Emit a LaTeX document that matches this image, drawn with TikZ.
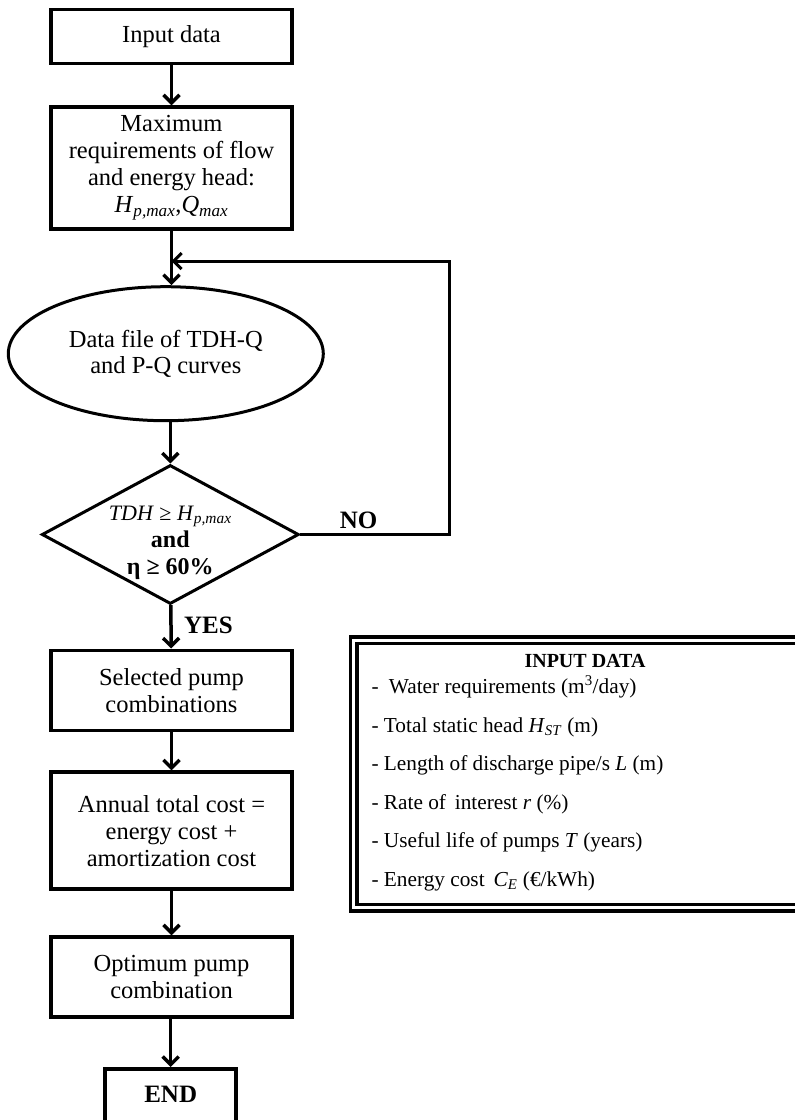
\documentclass[tikz,border=0pt]{standalone}
\usepackage{fontspec}
\setmainfont{Liberation Serif}
\usetikzlibrary{shapes.geometric, arrows.meta}

\begin{document}
\begin{tikzpicture}[x=1pt, y=-1pt,
box/.style={draw, line width=3.5pt, minimum width=241pt, inner sep=2pt, align=center, font=\fontsize{24.5}{27}\selectfont},
flow/.style={line width=3.5pt, -{Straight Barb[length=8pt,width=16pt]}},
frame2/.style={draw, line width=3.5pt, double=white, double distance=3pt},
item/.style={anchor=base west, font=\fontsize{21.3}{24}\selectfont},
tag/.style={font=\bfseries\fontsize{25}{28}\selectfont}]
\useasboundingbox (0,0) rectangle (795,1120);

% main chain
\node [box, minimum height=54pt] (inp) at (171.5,36.6) {Input data};
\node [box, minimum height=122pt] (maxreq) at (171.5,168) {Maximum\\ requirements of flow\\ and energy head:\\ \textit{H}\textsubscript{\textit{p,max}},\textit{Q}\textsubscript{\textit{max}}};
\node [draw, ellipse, line width=3pt, minimum width=315pt, minimum height=134pt, inner sep=0pt, align=center, font=\fontsize{24.5}{26}\selectfont] (ell) at (165.8,353.7) {Data file of TDH-Q\\ and P-Q curves};
\node [draw, diamond, line width=3pt, minimum width=257pt, minimum height=139pt, inner sep=0pt] (dia) at (170.3,534.5) {};
\node [align=center, font=\fontsize{24}{27}\selectfont] (diatxt) at (170.3,543) {{\fontsize{22}{27}\selectfont\textit{TDH} ≥ \textit{H}\textsubscript{\textit{p,max}}}\\ \textbf{and}\\ \textbf{η ≥ 60\%}};
\node [box, minimum height=80pt] (sel) at (171.5,690.3) {Selected pump\\ combinations};
\node [box, minimum height=117pt] (cost) at (171.5,830.7) {Annual total cost =\\ energy cost +\\ amortization cost};
\node [box, minimum height=80pt] (opt) at (171.5,977) {Optimum pump\\ combination};
\node [box, minimum width=131pt, minimum height=64pt, text depth=12pt, font=\bfseries\fontsize{25}{28}\selectfont, anchor=north] (fin) at (170.7,1067) {END};

\node [tag] (yes) at (208.5,625) {YES};
\node [tag] (no) at (358.5,520) {NO};

% arrows
\draw [flow] (inp) -- (maxreq);
\draw [flow] (maxreq.south) -- (maxreq.south |- ell.north);
\draw [flow] (ell.south -| dia.north) -- (dia.north);
\draw [flow] (dia) -- (sel);
\draw [flow] (sel) -- (cost);
\draw [flow] (cost) -- (opt);
\draw [flow] (opt.south) -- (opt.south -| fin.north) -- (fin.north);

% loop back
\coordinate (loopR) at (449,534.5);
\coordinate (join) at (171.5,261);
\draw [line width=3pt, -{Straight Barb[length=8pt,width=16pt]}] (dia.east) -- (loopR) |- (join);

% input data panel
\node [frame2, minimum width=470pt, minimum height=267.5pt, inner sep=0pt, anchor=north west] (panel) at (352,638.5) {};
\node [font=\bfseries\fontsize{20}{24}\selectfont] (ttl) at (585,661) {INPUT DATA};
\foreach \txt [count=\i from 0] in {{-\hspace{5pt} Water requirements (m\textsuperscript{3}/day)},
  {- Total static head \textit{H}\textsubscript{\textit{ST}} (m)},
  {- Length of discharge pipe/s \textit{L} (m)},
  {- Rate of\, interest \textit{r} (\%)},
  {- Useful life of pumps \textit{T} (years)},
  {- Energy cost\, \textit{C}\textsubscript{\textit{E}} (€/kWh)}}
  \node [item] (item\i) at (368,693.5+38.6*\i) {\txt};
\end{tikzpicture}
\end{document}
